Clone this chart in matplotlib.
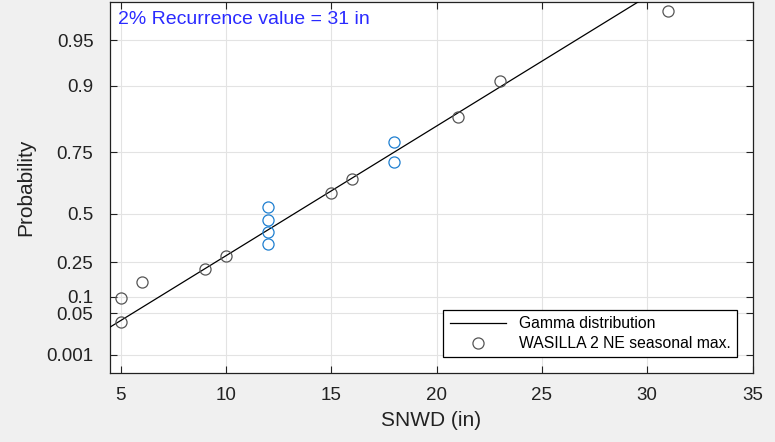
import math

import matplotlib
matplotlib.use("Agg")
import matplotlib.pyplot as plt
import numpy as np

# seasonal maximum snow depth (in), sorted, with plotting probabilities
snwd = [5, 5, 6, 9, 10, 12, 12, 12, 12, 15, 16, 18, 18, 21, 23, 31]
prob = [0.031, 0.094, 0.156, 0.219, 0.281, 0.344, 0.406, 0.469,
        0.531, 0.594, 0.656, 0.719, 0.781, 0.844, 0.906, 0.969]
highlight = [False, False, False, False, False, True, True, True,
             True, False, False, True, True, False, False, False]

# gamma probability paper (fit of the data) and the reference line
paper_shape, paper_scale = 4.214, 3.337
line_shape, line_scale, line_loc = 4.214, 3.203, 0.805
y_range_in = (0.16, 30.0)   # axis extent in inches of SNWD on the paper

prob_ticks = [0.001, 0.05, 0.1, 0.25, 0.5, 0.75, 0.9, 0.95]
prob_labels = ["0.001", "0.05", "0.1", "0.25", "0.5", "0.75", "0.9", "0.95"]
x_ticks = [5, 10, 15, 20, 25, 30, 35]


def gamma_cdf(x, shape, scale, loc=0.0):
    z = np.clip((np.asarray(x, dtype=float) - loc) / scale, 1e-12, None)
    term = np.ones_like(z) / shape
    total = term.copy()
    for n in range(1, 300):
        term = term * z / (shape + n)
        total = total + term
    out = np.exp(shape * np.log(z) - z - math.lgamma(shape)) * total
    return np.clip(out, 0.0, 1.0)


def paper_cdf(x):
    return gamma_cdf(x, paper_shape, paper_scale)


def paper_ppf(p):
    p = np.clip(np.asarray(p, dtype=float), 1e-12, 1 - 1e-12)
    lo = np.zeros_like(p)
    hi = np.full_like(p, 150.0)
    for _ in range(50):
        mid = (lo + hi) / 2
        below = paper_cdf(mid) < p
        lo = np.where(below, mid, lo)
        hi = np.where(below, hi, mid)
    return (lo + hi) / 2


plt.rcParams["font.family"] = ["Liberation Sans", "DejaVu Sans"]

fig = plt.figure(figsize=(7.75, 4.42), dpi=100, facecolor="#f0f0f0")
ax = fig.add_axes([0.142, 0.156, 0.829, 0.8405])
ax.set_yscale("function", functions=(paper_ppf, paper_cdf))

# fitted gamma line, straight on the probability paper
line_x = np.linspace(4.5, 35, 50)
ax.plot(line_x, gamma_cdf(line_x, line_shape, line_scale, line_loc),
        color="black", lw=0.9, label="Gamma distribution", zorder=3)

snwd = np.array(snwd)
prob = np.array(prob)
highlight = np.array(highlight)
ax.plot(snwd[~highlight], prob[~highlight], "o", mfc="none", mec="#555555",
        ms=8, mew=0.9, label="WASILLA 2 NE seasonal max.", zorder=4)
ax.plot(snwd[highlight], prob[highlight], "o", mfc="none", mec="#1f7fd0",
        ms=8, mew=0.9, zorder=4)

ax.set_xlim(4.5, 35)
ax.set_ylim(float(paper_cdf(y_range_in[0])), float(paper_cdf(y_range_in[1])))
ax.set_xticks(x_ticks)
ax.set_yticks(prob_ticks)
ax.set_yticklabels(prob_labels)
ax.yaxis.set_minor_locator(matplotlib.ticker.NullLocator())

ax.grid(True, color="#e3e3e3", lw=0.8)
ax.set_axisbelow(True)
ax.tick_params(direction="in", top=True, right=True, length=5, width=0.8,
               labelsize=13.5, colors="#222222")
ax.tick_params(axis="x", pad=10)
ax.tick_params(axis="y", pad=12)
for spine in ax.spines.values():
    spine.set_color("#222222")
    spine.set_linewidth(0.9)

ax.set_xlabel("SNWD (in)", fontsize=15, color="#222222", labelpad=5)
ax.set_ylabel("Probability", fontsize=15, color="#222222", labelpad=8)

ax.text(0.0125, 0.975, "2% Recurrence value = 31 in", transform=ax.transAxes,
        color="#2a2aff", fontsize=14, va="top", ha="left")

leg = ax.legend(loc="lower right", fontsize=11.3, frameon=True, fancybox=False,
                edgecolor="black", framealpha=1, borderpad=0.4,
                handlelength=3.6, borderaxespad=1.0, labelspacing=0.3)
leg.get_frame().set_linewidth(0.9)

fig.savefig("out.png", dpi=100, facecolor=fig.get_facecolor())
